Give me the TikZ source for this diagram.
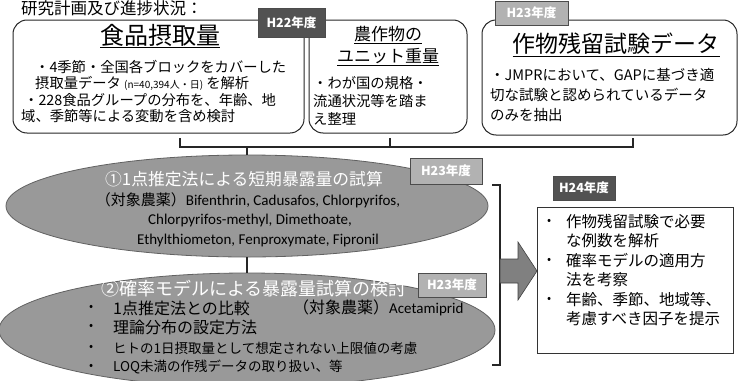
\documentclass[tikz,border=0pt]{standalone}
\usepackage{fontspec}
\setmainfont{Noto Sans CJK JP}
\newfontfamily\lat{Carlito}
\usetikzlibrary{shapes.geometric}
\newcommand{\fsz}[1]{\fontsize{#1pt}{#1pt}\selectfont}
\begin{document}
\begin{tikzpicture}[x=1pt,y=-1pt,
  rbox/.style={draw=black!85, line width=1pt, rounded corners=14pt, inner sep=0pt},
  lbl/.style={draw=black!70, line width=0.6pt, inner sep=0pt, text=white, font=\fsz{12.5}\bfseries},
  dlbl/.style={lbl, fill=black!68},
  llbl/.style={lbl, fill=black!30},
  ell/.style={ellipse, draw=black!62, fill=black!40, line width=0.8pt, inner sep=0pt},
  conn/.style={draw=black!85, line width=1.2pt},
  tl/.style={inner sep=0pt, anchor=west},
  tc/.style={inner sep=0pt},
]
\useasboundingbox (0,0) rectangle (743,380);
\clip (0,0) rectangle (743,380);

% title
\node[tc, anchor=west, font=\fsz{16.5}] (title) at (21,8.5) {研究計画及び進捗状況：};

% top boxes
\node[rbox, minimum width=291pt, minimum height=113pt] (b1) at (158.5,76.5) {};
\node[rbox, minimum width=158pt, minimum height=113pt] (b2) at (388,76.5) {};
\node[rbox, minimum width=255pt, minimum height=115pt] (b3) at (609.5,77.5) {};

% box 1 text
\node[tc, font=\fsz{24}] (b1t) at (160,36) {\underline{食品摂取量}};
\node[tl, font=\fsz{14.3}] (b1a) at (35,67) {・4季節・全国各ブロックをカバーした};
\node[tl, font=\fsz{14.3}] (b1b) at (35,83) {摂取量データ\ {\fsz{10}(n=40,394人・日)} を解析};
\node[tl, font=\fsz{14.3}] (b1c) at (24,100) {・228食品グループの分布を、年齢、地};
\node[tl, font=\fsz{14.3}] (b1d) at (21,116) {域、季節等による変動を含め検討};

% box 2 text
\node[tc, font=\fsz{17}] (b2t) at (388,35) {\underline{農作物の}};
\node[tc, font=\fsz{17}] (b2u) at (388,57) {\underline{ユニット重量}};
\node[tl, font=\fsz{14.3}] (b2a) at (313,83) {・わが国の規格・};
\node[tl, font=\fsz{14.3}] (b2b) at (313,101) {流通状況等を踏ま};
\node[tl, font=\fsz{14.3}] (b2c) at (313,119) {え整理};

% box 3 text
\node[tc, font=\fsz{23}] (b3t) at (616,45) {\underline{作物残留試験データ}};
\node[tl, font=\fsz{14.5}] (b3a) at (490,75) {・JMPRにおいて、GAPに基づき適};
\node[tl, font=\fsz{14.5}] (b3b) at (490,95) {切な試験と認められているデータ};
\node[tl, font=\fsz{14.5}] (b3c) at (490,115) {のみを抽出};

% labels top
\node[dlbl, minimum width=67pt, minimum height=29pt] (h22) at (291.5,22.5) {H22年度};
\node[llbl, minimum width=73pt, minimum height=24pt] (h23a) at (531.5,13) {H23年度};

% ellipses
\node[ell, minimum width=482pt, minimum height=102pt] (e1) at (247,206) {};
\node[ell, minimum width=496pt, minimum height=114pt] (e2) at (247,330) {};

% connectors top
\coordinate (ta) at (180,138);
\coordinate (tb) at (390,138);
\coordinate (tcc) at (633,138);
\coordinate (jl) at (180,147);
\coordinate (jm) at (390,147);
\coordinate (jr) at (633,147);
\coordinate (jd) at (247,147);
\draw[conn] (ta) -- (jl) -- (jr) -- (tcc);
\draw[conn] (tb) -- (jm);
\draw[conn] (jd) -- (jd |- e1.north);
\draw[conn] (e1.south) -- (e2.north);

% ellipse 1 text
\node[tc, font=\fsz{16.8}, text=white] (e1t) at (244,179) {①1点推定法による短期暴露量の試算};
\node[tc, font=\fsz{15}] (e1a) at (248,200) {（対象農薬）{\lat Bifenthrin, Cadusafos, Chlorpyrifos,}};
\node[tc, font=\fsz{15}\lat] (e1b) at (250,220) {Chlorpyrifos-methyl, Dimethoate,};
\node[tc, font=\fsz{15}\lat] (e1c) at (258,240) {Ethylthiometon, Fenproxymate, Fipronil};
\node[llbl, minimum width=72pt, minimum height=26pt] (h23b) at (446,171) {H23年度};

% ellipse 2 text
\node[tc, font=\fsz{18}, text=white] (e2t) at (254,289) {②確率モデルによる暴露量試算の検討};
\node[tl, font=\fsz{12}] (e2d1) at (89,308) {•};
\node[tl, font=\fsz{12}] (e2d2) at (89,327) {•};
\node[tl, font=\fsz{12}] (e2d3) at (89,348) {•};
\node[tl, font=\fsz{12}] (e2d4) at (89,367) {•};
\node[tl, font=\fsz{16}] (e2a) at (113,308) {1点推定法との比較};
\node[tl, font=\fsz{16}] (e2x) at (293,308) {（対象農薬）{\lat\fsz{15}Acetamiprid}};
\node[tl, font=\fsz{16}] (e2b) at (113,327) {理論分布の設定方法};
\node[tl, font=\fsz{13.5}] (e2c) at (113,348) {ヒトの1日摂取量として想定されない上限値の考慮};
\node[tl, font=\fsz{13.5}] (e2e) at (113,367) {LOQ未満の作残データの取り扱い、等};
\node[llbl, minimum width=68pt, minimum height=24pt] (h23c) at (452,285) {H23年度};

% bracket and arrow
\coordinate (bt) at (492,185);
\coordinate (bb) at (492,365);
\draw[conn] (bt) -- ++(8,0) -- ++(0,180) -- (bb);
\draw[draw=black!75, fill=black!50, line width=0.6pt] (500,259) -- (518,259) -- (518,242) -- (537,271) -- (518,300) -- (518,283) -- (500,283) -- cycle;

% H24
\node[dlbl, minimum width=62pt, minimum height=24pt] (h24) at (584,188) {H24年度};
\node[draw=black!80, line width=0.8pt, minimum width=196pt, minimum height=146pt, inner sep=0pt] (b4) at (635,280) {};
\foreach \yy in {222,261,300} \node[tl, font=\fsz{12}] at (547,\yy) {•};
\node[tl, font=\fsz{15.5}] (b4a) at (566,222) {作物残留試験で必要};
\node[tl, font=\fsz{15.5}] (b4b) at (566,241) {な例数を解析};
\node[tl, font=\fsz{15.5}] (b4c) at (566,261) {確率モデルの適用方};
\node[tl, font=\fsz{15.5}] (b4d) at (566,280) {法を考察};
\node[tl, font=\fsz{15.5}] (b4e) at (566,300) {年齢、季節、地域等、};
\node[tl, font=\fsz{15.5}] (b4f) at (566,319) {考慮すべき因子を提示};
\end{tikzpicture}
\end{document}
